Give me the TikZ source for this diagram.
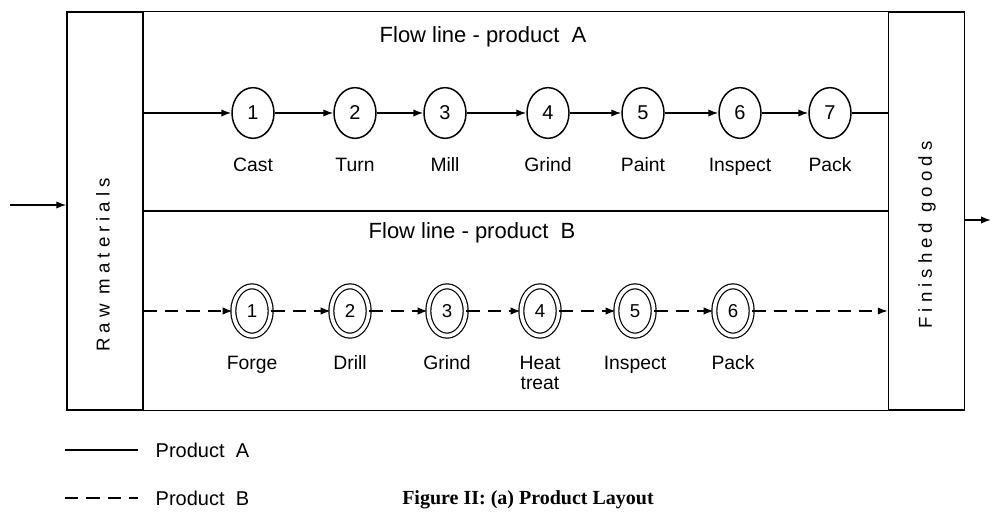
\documentclass[tikz,border=0pt]{standalone}
\usepackage{fontspec}
\setmainfont{Liberation Serif}
\setsansfont{Liberation Sans}
\newfontfamily\spacedsans[LetterSpace=27]{Liberation Sans}
\usetikzlibrary{arrows.meta,positioning,shapes.geometric}

\begin{document}
\begin{tikzpicture}[
  x=0.75pt,y=0.75pt,
  node distance=13pt,
  line width=1.1pt,
  col/.style={draw,minimum width=57pt,minimum height=298.5pt,inner sep=0pt},
  opA/.style={ellipse,draw,line width=1.1pt,minimum width=31.5pt,minimum height=38pt,inner sep=0pt,font=\sffamily\fontsize{15}{16}\selectfont},
  opB/.style={ellipse,draw,double,double distance=2.8pt,line width=.9pt,minimum width=28pt,minimum height=37pt,inner sep=0pt,font=\sffamily\fontsize{14}{15}\selectfont},
  lab/.style={font=\sffamily\fontsize{14.5}{15}\selectfont,text height=10.5pt,text depth=3pt,inner sep=0pt,align=center},
  ttl/.style={font=\sffamily\fontsize{16.5}{18}\selectfont,inner sep=0pt},
  side/.style={rotate=90,font=\spacedsans\fontsize{14}{15}\selectfont,inner sep=0pt},
  arr/.style={-{Latex[length=7.5pt,width=5.5pt]}},
  dsh/.style={dash pattern=on 10pt off 6pt}
]
\useasboundingbox (0,0) rectangle (992,-513);

% columns and frame
\node[col] (raw) at (105,-211) {};
\node[col] (fin) at (926.5,-211) {};
\node[side] (rawtxt) at (103,-265) {Raw materials};
\node[side] (fintxt) at (927,-235) {Finished goods};
\draw (raw.north east) -- (fin.north west);
\draw (raw.east) -- (fin.west);
\draw (raw.south east) -- (fin.south west);
\coordinate (src) at (10,-205);
\coordinate (snk) at (991,-220);
\draw[arr] (src) -- (src -| raw.west);
\draw[arr] (fin.east |- snk) -- (snk);

% flow line A
\node[ttl] (ttlA) at (483,-37) {Flow line - product\ \ A};
\node[opA] (a1) at (253,-113) {1};
\node[opA] (a2) at (355,-113) {2};
\node[opA] (a3) at (445,-113) {3};
\node[opA] (a4) at (548,-113) {4};
\node[opA] (a5) at (643,-113) {5};
\node[opA] (a6) at (740,-113) {6};
\node[opA] (a7) at (830,-113) {7};
\node[lab,below=of a1] (cast) {Cast};
\node[lab,below=of a2] (turn) {Turn};
\node[lab,below=of a3] (mill) {Mill};
\node[lab,below=of a4] (grindA) {Grind};
\node[lab,below=of a5] (paint) {Paint};
\node[lab,below=of a6] (inspA) {Inspect};
\node[lab,below=of a7] (packA) {Pack};
\draw[arr] (raw.east |- a1) -- (a1);
\draw[arr] (a1) -- (a2);
\draw[arr] (a2) -- (a3);
\draw[arr] (a3) -- (a4);
\draw[arr] (a4) -- (a5);
\draw[arr] (a5) -- (a6);
\draw[arr] (a6) -- (a7);
\draw (a7) -- (fin.west |- a7);

% flow line B
\node[ttl] (ttlB) at (472,-233) {Flow line - product\ \ B};
\node[opB] (b1) at (252,-311) {1};
\node[opB] (b2) at (350,-311) {2};
\node[opB] (b3) at (447,-311) {3};
\node[opB] (b4) at (540,-311) {4};
\node[opB] (b5) at (635,-311) {5};
\node[opB] (b6) at (733,-311) {6};
\node[lab,below=14pt of b1] (forge) {Forge};
\node[lab,below=14pt of b2] (drill) {Drill};
\node[lab,below=14pt of b3] (grindB) {Grind};
\node[lab,below=14pt of b4] (heat) {\begin{tabular}[t]{@{}c@{}}Heat\\treat\end{tabular}};
\node[lab,below=14pt of b5] (inspB) {Inspect};
\node[lab,below=14pt of b6] (packB) {Pack};
\draw[arr,dsh] (raw.east |- b1) -- (b1);
\draw[arr,dsh] (b1) -- (b2);
\draw[arr,dsh] (b2) -- (b3);
\draw[arr,dsh] (b3) -- (b4);
\draw[arr,dsh] (b4) -- (b5);
\draw[arr,dsh] (b5) -- (b6);
\draw[arr,dsh] (b6) -- (fin.west |- b6);

% legend and caption
\node[lab,anchor=west,font=\sffamily\fontsize{15}{16}\selectfont] (legA) at (155,-452) {Product\ \ A};
\node[lab,anchor=west,font=\sffamily\fontsize{15}{16}\selectfont] (legB) at (155,-500) {Product\ \ B};
\coordinate (keyA) at (65,-450);
\coordinate (keyB) at (65,-498);
\draw (keyA) -- (keyA -| 138,0);
\draw[dsh] (keyB) -- (keyB -| 138,0);
\node[font=\bfseries\fontsize{15}{16}\selectfont] (cap) at (528,-500) {Figure II: (a) Product Layout};
\end{tikzpicture}
\end{document}
